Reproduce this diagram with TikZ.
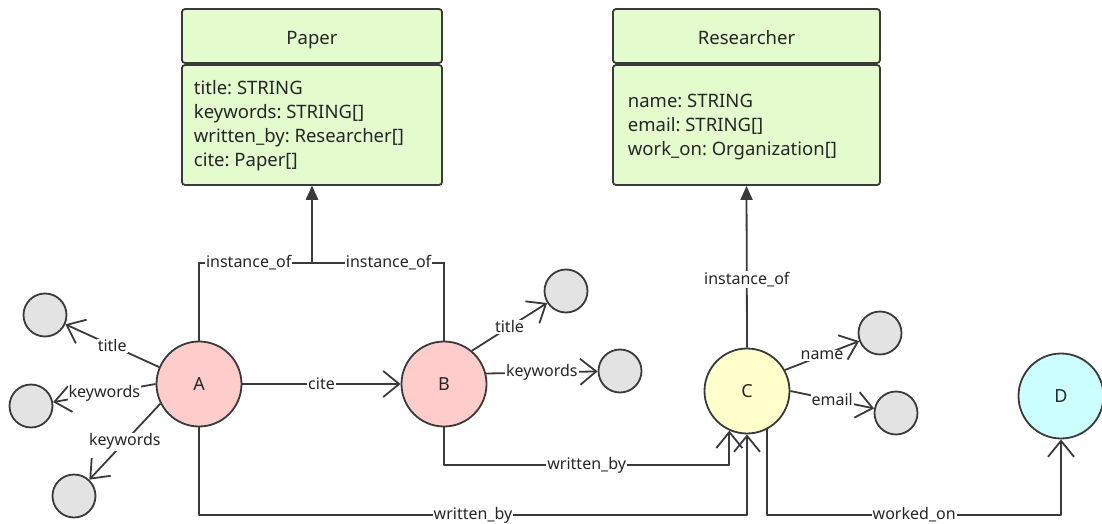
\documentclass[tikz,border=0pt]{standalone}
\usepackage{fontspec}
\setmainfont{Noto Sans}
\usetikzlibrary{arrows.meta}
\definecolor{linec}{HTML}{3A3A3A}
\definecolor{textc}{HTML}{262626}
\definecolor{clsfill}{HTML}{E4FBCE}
\definecolor{attfill}{HTML}{E3E3E3}
\definecolor{pinkfill}{HTML}{FFCCCC}
\definecolor{yelfill}{HTML}{FFFFCC}
\definecolor{cyanfill}{HTML}{CCFFFF}
\frenchspacing
\begin{document}
\begin{tikzpicture}[x=1pt, y=-1pt, line width=1.8pt, text=textc,
  lbl/.style={fill=white, inner sep=1pt, font=\fontsize{16}{19}\selectfont},
  hd/.style={draw=linec, fill=clsfill, rounded corners=3pt, minimum height=54pt, text height=17pt, text depth=0pt, font=\fontsize{18.5}{22}\selectfont},
  bd/.style={draw=linec, fill=clsfill, rounded corners=3pt, minimum height=120pt},
  attr/.style={anchor=west, inner sep=0pt, align=left, font=\fontsize{18.5}{24}\selectfont},
  ent/.style={circle, draw=linec, minimum size=85pt, font=\fontsize{18}{20}\selectfont},
  att/.style={circle, draw=linec, fill=attfill, minimum size=43pt},
  rel/.style={draw=linec, line join=round, -{Straight Barb[length=16pt, width=26pt]}},
  inh/.style={draw=linec, -{Triangle[length=14pt, width=12pt]}}]
  \useasboundingbox (0,0) rectangle (1102,524);
  % classes
  \node[hd, minimum width=260pt] (phead) at (312,36) {Paper};
  \node[bd, minimum width=260pt] (pbody) at (312,125) {};
  \node[attr] (ptext) at (193,126) {title: STRING\\keywords: STRING[]\\written\_by: Researcher[]\\cite: Paper[]};
  \node[hd, minimum width=267pt] (rhead) at (746.5,36) {Researcher};
  \node[bd, minimum width=267pt] (rbody) at (746.5,125) {};
  \node[attr] (rtext) at (627,127) {name: STRING\\email: STRING[]\\work\_on: Organization[]};
  % instances
  \node[ent, fill=pinkfill] (A) at (199,384) {A};
  \node[ent, fill=pinkfill] (B) at (444,384) {B};
  \node[ent, fill=yelfill] (C) at (747,391) {C};
  \node[ent, fill=cyanfill] (D) at (1061,396) {D};
  % attribute values
  \node[att] (a1) at (45,315) {};
  \node[att] (a2) at (31,406) {};
  \node[att] (a3) at (74,496) {};
  \node[att] (b1) at (566,291) {};
  \node[att] (b2) at (620,371) {};
  \node[att] (c1) at (880,333) {};
  \node[att] (c2) at (896,413) {};
  \coordinate (pj) at (312,263);
  \coordinate (mid) at (0,465);
  \coordinate (low) at (0,515);
  % instance_of
  \draw[inh] (A.north) |- node[lbl, pos=0.72] {instance\_of} (pj) -- (pbody.south);
  \draw[inh] (B.north) |- node[lbl, pos=0.71] {instance\_of} (pj) -- (pbody.south);
  \draw[inh] (C.north) -- node[lbl, pos=0.42] {instance\_of} (rbody.south);
  % attributes
  \draw[rel] (A.157) -- node[lbl] {title} (a1);
  \draw[rel] (A.180) -- node[lbl] {keywords} (a2);
  \draw[rel] (A.207) -- node[lbl] {keywords} (a3);
  \draw[rel] (B.50) -- node[lbl] {title} (b1);
  \draw[rel] (B.14) -- node[lbl] {keywords} (b2);
  \draw[rel] (C.29) -- node[lbl] {name} (c1);
  \draw[rel] (C.0) -- node[lbl] {email} (c2);
  % relations
  \draw[rel] (A.east) -- node[lbl] {cite} (B.west);
  \draw[rel] (B.south) -- (B.south |- mid) -| node[lbl, pos=0.25] {written\_by} (C.-114);
  \draw[rel] (A.south) -- (A.south |- low) -| node[lbl, pos=0.25] {written\_by} (C.south);
  \draw[rel] (C.-62) -- (C.-62 |- low) -| node[lbl, pos=0.25] {worked\_on} (D.south);
\end{tikzpicture}
\end{document}
